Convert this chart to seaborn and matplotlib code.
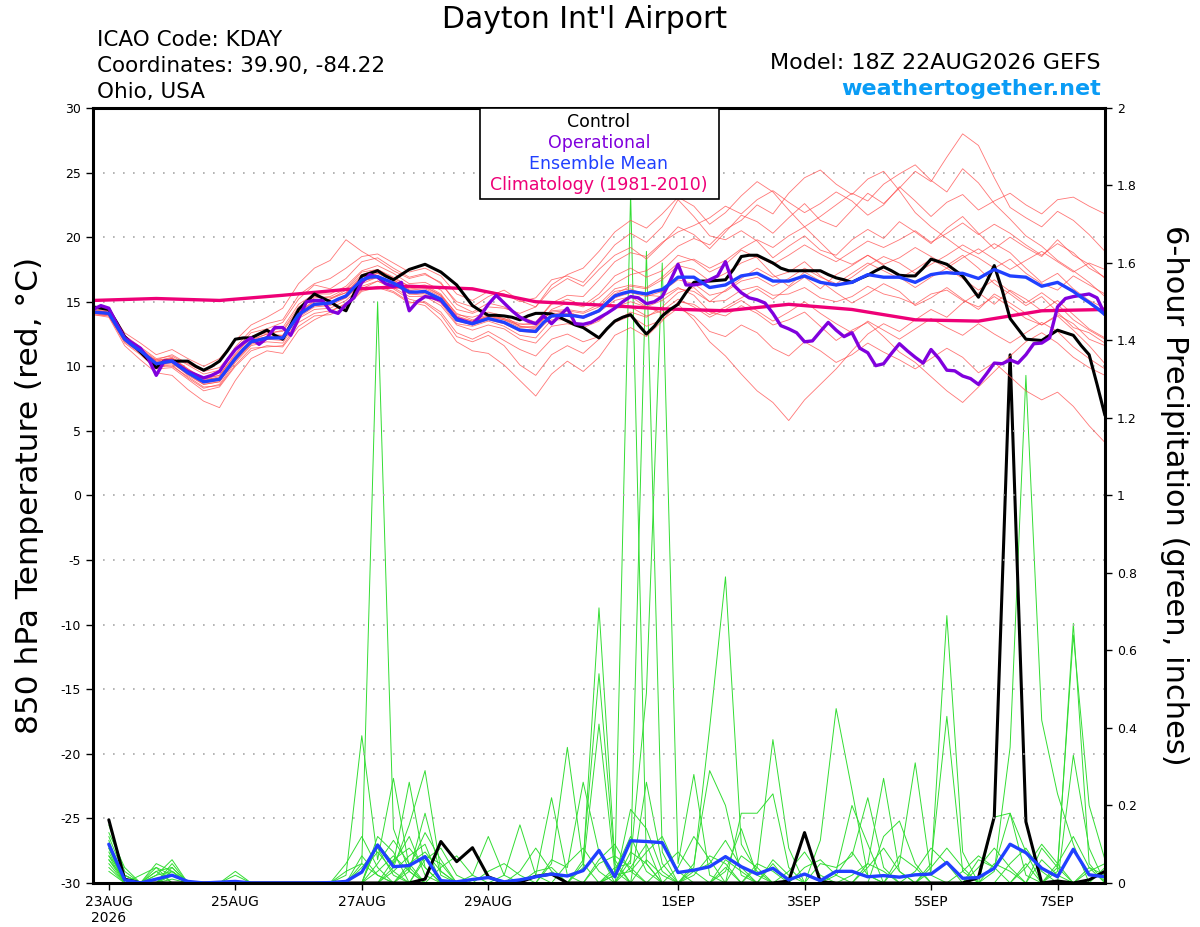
import pandas as pd
import matplotlib.pyplot as plt
import seaborn as sns
from matplotlib.patches import Rectangle

sns.set_style("ticks")
plt.rcParams['font.family'] = ['DejaVu Sans']
plt.rcParams['axes.unicode_minus'] = False
plt.rcParams['text.color'] = 'black'
plt.rcParams['xtick.color'] = 'black'
plt.rcParams['ytick.color'] = 'black'
plt.rcParams['axes.labelcolor'] = 'black'

# hours after 18Z 22AUG2026
hours3 = list(range(0, 385, 3))
hours6 = list(range(0, 385, 6))
precip_hours = list(range(6, 385, 6))
clim_hours = list(range(0, 385, 24))

date_ticks = [6, 54, 102, 150, 222, 270, 318, 366]
date_labels = ["23AUG\n2026", "25AUG", "27AUG", "29AUG", "1SEP", "3SEP", "5SEP", "7SEP"]

# 850 hPa temperature (C), 3-hourly
control_t = [14.6, 14.5, 14.4, 13.4, 12.3, 11.7, 11.1, 10.5, 9.9, 10.4,
             10.4, 10.4, 10.4, 10.0, 9.7, 10.0, 10.4, 11.2, 12.1, 12.2,
             12.2, 12.5, 12.8, 12.4, 12.1, 13.2, 14.4, 15.0, 15.6, 15.3,
             15.0, 14.6, 14.3, 15.6, 17.0, 17.2, 17.4, 17.0, 16.7, 17.1,
             17.5, 17.7, 17.9, 17.6, 17.3, 16.8, 16.3, 15.5, 14.7, 14.3,
             13.95, 13.95, 13.9, 13.8, 13.6, 13.9, 14.1, 14.1, 14.05, 13.8,
             13.5, 13.2, 13.0, 12.6, 12.2, 12.9, 13.5, 13.8, 14.0, 13.2,
             12.5, 13.1, 13.9, 14.4, 14.8, 15.7, 16.5, 16.6, 16.6, 16.65,
             16.7, 17.5, 18.5, 18.6, 18.6, 18.3, 18.0, 17.6, 17.4, 17.4,
             17.4, 17.4, 17.4, 17.1, 16.85, 16.7, 16.5, 16.8, 17.05, 17.4,
             17.7, 17.4, 17.05, 17.0, 17.0, 17.6, 18.3, 18.1, 17.9, 17.45,
             17.0, 16.2, 15.35, 16.5, 17.8, 15.9, 13.7, 12.9, 12.1, 12.05,
             12.0, 12.4, 12.8, 12.6, 12.4, 11.6, 10.9, 8.6, 6.2]

operational_t = [14.4, 14.7, 14.5, 13.3, 12.2, 11.8, 11.4, 10.6, 9.3, 10.4,
                 10.4, 10.0, 9.6, 9.35, 9.1, 9.3, 9.6, 10.5, 11.3, 11.8,
                 12.2, 11.7, 12.2, 13.0, 13.0, 12.4, 13.7, 15.0, 15.1, 15.1,
                 14.3, 14.1, 14.8, 15.3, 16.5, 17.1, 16.9, 16.4, 16.2, 16.5,
                 14.3, 15.0, 15.4, 15.3, 15.1, 14.4, 13.7, 13.5, 13.3, 13.9,
                 14.8, 15.5, 14.9, 14.3, 13.8, 13.5, 13.3, 13.9, 13.3, 13.9,
                 14.5, 13.3, 13.25, 13.4, 13.75, 14.1, 14.5, 15.0, 15.4, 15.3,
                 14.85, 15.0, 15.4, 16.6, 17.9, 16.3, 16.3, 16.4, 16.7, 17.0,
                 18.1, 16.3, 15.7, 15.3, 15.15, 14.9, 14.1, 13.15, 12.9, 12.6,
                 11.9, 11.97, 12.7, 13.4, 12.8, 12.3, 12.6, 11.4, 11.05, 10.05,
                 10.2, 11.0, 11.75, 11.2, 10.7, 10.25, 11.3, 10.6, 9.7, 9.65,
                 9.25, 9.05, 8.6, 9.4, 10.25, 10.2, 10.5, 10.25, 10.9, 11.75,
                 11.8, 12.2, 14.6, 15.25, 15.4, 15.5, 15.6, 15.3, 14.0]

ens_mean_t = [14.2, 14.15, 14.1, 13.1, 12.1, 11.6, 11.2, 10.7, 10.2, 10.3,
              10.4, 9.95, 9.5, 9.15, 8.8, 8.9, 9.0, 9.8, 10.6, 11.3,
              11.9, 12.05, 12.2, 12.2, 12.2, 13.1, 14.0, 14.4, 14.8, 14.85,
              14.9, 15.2, 15.45, 16.1, 16.7, 16.9, 16.95, 16.7, 16.45, 16.1,
              15.75, 15.75, 15.8, 15.5, 15.2, 14.4, 13.6, 13.45, 13.3, 13.5,
              13.7, 13.55, 13.4, 13.1, 12.8, 12.75, 12.7, 13.4, 13.9, 13.95,
              13.95, 13.9, 13.8, 14.05, 14.3, 14.9, 15.45, 15.65, 15.8, 15.7,
              15.6, 15.8, 15.95, 16.4, 16.9, 16.9, 16.9, 16.5, 16.1, 16.2,
              16.3, 16.65, 17.0, 17.1, 17.2, 16.9, 16.6, 16.6, 16.6, 16.8,
              17.0, 16.75, 16.5, 16.4, 16.3, 16.4, 16.5, 16.8, 17.1, 17.0,
              16.9, 16.9, 16.9, 16.7, 16.5, 16.8, 17.1, 17.2, 17.25, 17.2,
              17.2, 17.0, 16.8, 17.15, 17.5, 17.25, 17.0, 16.95, 16.9, 16.55,
              16.2, 16.35, 16.5, 16.15, 15.8, 15.35, 14.95, 14.5, 14.0]

climatology_t = [15.1, 15.25, 15.1, 15.5, 15.95, 16.2, 16.0, 15.0, 14.75,
                 14.45, 14.3, 14.8, 14.4, 13.6, 13.5, 14.3, 14.4]

# ensemble members, 6-hourly
mem01 = [14.3, 14.0, 12.0, 11.0, 10.5, 10.9, 10.2, 9.6, 9.9, 11.3, 12.6, 12.9, 13.4,
         15.2, 16.3, 16.0, 16.8, 18.1, 18.4, 17.6, 16.9, 17.2, 16.4, 15.0, 14.6, 15.4,
         15.9, 15.1, 14.6, 16.0, 16.8, 16.2, 17.5, 18.6, 19.2, 18.3, 19.5, 20.8, 20.2,
         19.1, 20.4, 21.7, 21.2, 20.3, 21.5, 22.6, 21.3, 20.8, 22.1, 23.4, 22.6, 23.8,
         25.1, 24.3, 26.2, 28.0, 27.1, 24.6, 22.3, 21.5, 20.8, 22.0, 21.3, 20.2, 18.9]
mem02 = [14.1, 13.9, 11.8, 10.9, 9.8, 9.9, 9.0, 8.1, 8.4, 10.0, 11.2, 11.6, 11.5,
         13.1, 13.9, 14.0, 14.6, 15.8, 16.1, 15.7, 14.9, 15.0, 14.2, 12.6, 12.1, 12.7,
         12.0, 11.3, 10.8, 12.1, 12.5, 11.9, 12.3, 13.4, 13.9, 13.1, 13.6, 14.5, 13.9,
         12.7, 12.3, 13.2, 12.6, 11.4, 10.8, 11.9, 11.2, 10.3, 10.9, 11.8, 11.1, 10.5,
         9.8, 10.6, 11.4, 10.7, 9.5, 10.3, 9.2, 8.1, 7.4, 8.0, 6.9, 5.4, 4.1]
mem03 = [14.4, 14.3, 12.4, 11.5, 10.6, 10.8, 10.1, 9.4, 9.7, 11.5, 12.8, 13.3, 13.6,
         15.5, 16.4, 16.8, 17.6, 18.5, 18.7, 18.0, 17.3, 17.6, 17.0, 15.6, 15.1, 15.8,
         15.6, 15.0, 15.3, 16.7, 17.0, 16.5, 17.9, 19.4, 20.3, 19.6, 20.8, 22.9, 21.6,
         20.1, 19.8, 20.5, 19.7, 18.4, 19.3, 20.1, 19.0, 18.6, 19.8, 20.6, 19.9, 21.2,
         20.4, 19.5, 20.7, 21.6, 20.3, 19.1, 20.0, 19.2, 18.5, 19.8, 18.6, 17.9, 16.8]
mem04 = [14.0, 13.8, 11.6, 10.5, 9.5, 9.3, 8.2, 7.3, 6.8, 8.9, 10.6, 11.2, 11.0,
         12.8, 13.6, 14.2, 14.9, 16.0, 16.6, 16.0, 15.2, 14.9, 14.0, 12.3, 11.9, 12.4,
         11.6, 10.1, 9.3, 10.9, 11.6, 11.0, 12.1, 13.5, 14.2, 13.8, 14.6, 15.7, 16.1,
         15.0, 15.9, 16.8, 17.6, 16.9, 17.3, 18.1, 17.0, 16.2, 16.9, 17.8, 18.5, 18.0,
         17.2, 17.9, 18.6, 19.4, 18.7, 19.5, 18.8, 17.6, 16.5, 17.2, 16.0, 15.1, 14.5]
mem05 = [14.5, 14.4, 12.6, 11.8, 10.9, 11.3, 10.6, 10.0, 10.6, 12.0, 13.2, 13.8, 14.5,
         16.4, 17.6, 18.2, 19.8, 18.9, 18.2, 17.4, 16.8, 17.1, 16.5, 14.8, 14.2, 14.9,
         14.6, 13.9, 13.4, 14.8, 15.2, 14.7, 15.6, 17.0, 17.6, 16.9, 17.4, 18.6, 18.2,
         17.3, 17.9, 19.0, 18.4, 17.1, 16.2, 17.3, 16.6, 15.7, 14.9, 15.6, 16.4, 15.8,
         14.7, 15.3, 16.1, 15.2, 14.4, 15.6, 14.9, 14.1, 13.2, 14.0, 13.3, 12.1, 11.6]
mem06 = [14.2, 14.2, 12.0, 11.1, 10.0, 10.0, 9.2, 8.4, 8.5, 10.1, 11.4, 11.5, 11.6,
         13.4, 14.1, 14.3, 14.8, 15.9, 16.2, 15.8, 15.0, 14.7, 13.6, 11.9, 11.2, 11.0,
         10.1, 8.9, 7.7, 9.4, 10.4, 9.6, 10.7, 12.4, 13.0, 12.3, 13.5, 15.0, 14.8,
         14.0, 14.6, 15.3, 16.0, 15.2, 16.1, 16.9, 16.0, 17.1, 17.8, 18.6, 17.9, 18.4,
         19.2, 18.5, 17.8, 18.6, 17.6, 16.4, 15.6, 14.7, 15.4, 14.2, 13.0, 12.6, 11.8]
mem07 = [14.3, 14.1, 12.2, 11.3, 10.3, 10.6, 9.8, 9.0, 9.1, 10.7, 12.0, 12.5, 12.4,
         14.2, 15.0, 15.2, 15.9, 17.1, 17.5, 16.8, 16.2, 16.3, 15.6, 14.0, 13.8, 14.2,
         13.9, 13.1, 12.9, 14.0, 14.3, 13.7, 14.2, 15.1, 15.4, 14.6, 14.1, 14.8, 13.6,
         11.9, 10.8, 9.4, 8.1, 7.2, 5.8, 7.4, 8.6, 9.8, 11.2, 12.5, 13.3, 12.7,
         13.6, 14.4, 13.8, 14.9, 15.7, 14.8, 15.9, 15.2, 14.3, 15.1, 14.0, 12.9, 12.2]
mem08 = [14.1, 14.0, 12.1, 11.2, 10.1, 10.2, 9.4, 8.6, 8.8, 10.4, 11.7, 12.1, 12.3,
         14.1, 14.9, 15.0, 15.3, 16.5, 17.2, 16.7, 15.9, 15.6, 15.0, 13.6, 13.4, 13.9,
         13.6, 13.2, 13.4, 14.9, 15.5, 15.4, 16.7, 18.1, 18.8, 18.5, 19.6, 20.4, 20.9,
         21.5, 22.4, 21.8, 22.9, 23.6, 22.7, 21.9, 22.6, 23.5, 22.8, 21.7, 22.5, 23.9,
         22.8, 21.6, 22.7, 23.3, 22.1, 22.8, 23.4, 22.5, 21.8, 22.9, 23.1, 22.4, 21.8]
mem09 = [14.2, 14.1, 12.1, 11.3, 10.4, 10.7, 9.8, 9.1, 9.3, 10.9, 12.3, 12.6, 12.7,
         14.4, 15.3, 15.4, 16.0, 17.3, 17.5, 16.9, 16.2, 16.2, 15.5, 14.1, 13.6, 14.0,
         13.7, 13.3, 13.2, 14.2, 14.3, 14.1, 14.6, 15.8, 16.0, 15.5, 15.4, 16.1, 15.5,
         14.2, 13.9, 14.7, 14.1, 13.2, 13.6, 14.2, 13.1, 12.0, 12.8, 13.4, 12.3, 11.1,
         10.3, 9.2, 8.1, 7.2, 8.4, 9.6, 10.8, 11.9, 12.6, 11.8, 10.7, 9.9, 9.3]
mem10 = [14.3, 14.2, 12.3, 11.4, 10.5, 10.6, 9.7, 8.9, 9.2, 10.8, 12.1, 12.5, 12.8,
         14.6, 15.4, 15.3, 15.7, 16.9, 17.2, 16.6, 15.9, 16.0, 15.4, 13.9, 13.5, 13.8,
         13.6, 13.0, 13.1, 14.4, 14.9, 14.6, 15.3, 16.4, 17.1, 17.4, 18.2, 19.3, 19.9,
         19.4, 20.6, 21.3, 22.5, 21.8, 23.4, 24.6, 25.2, 24.1, 23.3, 24.5, 25.1, 23.6,
         21.9, 20.8, 19.9, 19.0, 18.4, 17.6, 18.3, 17.2, 16.4, 15.9, 17.0, 16.3, 15.6]
mem11 = [14.0, 13.9, 11.9, 11.0, 10.0, 10.1, 9.1, 8.3, 8.6, 10.3, 11.6, 11.9, 11.8,
         13.7, 14.4, 14.5, 15.1, 16.2, 16.6, 16.1, 15.4, 15.4, 14.7, 13.2, 12.8, 13.2,
         12.9, 12.1, 11.8, 13.1, 13.3, 13.0, 13.5, 14.6, 15.0, 14.6, 15.1, 16.0, 15.8,
         15.0, 15.1, 15.9, 16.2, 15.5, 15.6, 16.1, 15.3, 15.0, 15.4, 16.2, 15.6, 15.3,
         14.8, 15.6, 15.9, 15.1, 14.6, 15.4, 14.6, 13.7, 13.2, 13.9, 12.8, 11.6, 10.2]
mem12 = [14.4, 14.2, 12.2, 11.3, 10.4, 10.6, 9.7, 9.0, 9.3, 11.0, 12.3, 12.7, 13.0,
         14.8, 15.6, 15.6, 16.2, 17.4, 17.8, 17.2, 16.4, 16.5, 15.9, 14.4, 14.1, 14.6,
         14.5, 14.1, 14.6, 16.3, 17.1, 17.6, 18.9, 20.4, 21.3, 20.7, 21.8, 23.1, 22.4,
         21.0, 21.9, 23.2, 24.3, 23.5, 22.1, 20.8, 19.6, 18.4, 17.9, 18.6, 17.8, 16.9,
         16.1, 16.9, 17.6, 16.8, 15.9, 16.7, 15.8, 14.9, 15.7, 14.8, 13.6, 12.8, 12.1]
mem13 = [14.2, 14.1, 12.0, 11.1, 10.1, 10.3, 9.4, 8.7, 8.9, 10.5, 11.8, 12.1, 12.2,
         14.0, 14.7, 14.8, 15.4, 16.6, 16.9, 16.3, 15.6, 15.7, 15.1, 13.5, 13.2, 13.6,
         13.3, 12.7, 12.6, 13.8, 13.9, 13.8, 14.4, 15.6, 16.2, 16.0, 16.7, 17.8, 17.5,
         16.6, 17.2, 18.0, 18.5, 17.9, 18.6, 19.4, 18.7, 18.1, 18.9, 19.7, 19.2, 19.8,
         20.5, 19.6, 20.3, 21.1, 20.2, 21.0, 20.3, 19.4, 18.6, 19.5, 18.8, 17.6, 16.9]
mem14 = [14.1, 14.0, 12.1, 11.2, 10.3, 10.5, 9.6, 8.8, 9.0, 10.6, 11.9, 12.3, 12.1,
         13.8, 14.6, 14.7, 15.3, 16.4, 16.9, 16.4, 15.6, 15.5, 14.9, 13.3, 13.1, 13.5,
         13.1, 12.4, 12.2, 13.6, 13.6, 13.2, 13.6, 14.5, 14.6, 13.9, 14.3, 15.2, 14.6,
         13.8, 14.4, 15.1, 14.3, 13.5, 14.2, 15.0, 14.1, 13.3, 12.6, 13.5, 12.8, 12.1,
         12.9, 13.7, 13.0, 12.4, 13.3, 12.5, 11.8, 12.6, 13.4, 12.7, 11.5, 10.6, 9.8]
mem15 = [14.3, 14.2, 12.2, 11.3, 10.2, 10.4, 9.5, 8.8, 9.1, 10.7, 12.0, 12.3, 12.4,
         14.2, 15.1, 15.2, 15.7, 17.0, 17.3, 16.7, 16.0, 16.1, 15.5, 13.8, 13.5, 13.9,
         13.7, 13.1, 13.0, 14.3, 14.4, 14.2, 14.8, 16.0, 16.3, 16.1, 16.9, 18.0, 18.3,
         17.6, 18.2, 19.1, 19.8, 19.2, 20.1, 20.8, 21.6, 22.5, 23.4, 22.8, 24.1, 24.9,
         25.6, 24.4, 23.5, 25.3, 24.2, 22.6, 21.4, 20.1, 19.3, 18.2, 17.4, 16.5, 15.4]
mem16 = [14.2, 14.0, 12.0, 11.1, 10.2, 10.3, 9.3, 8.6, 8.8, 10.5, 11.8, 12.1, 12.0,
         13.9, 14.7, 14.9, 15.4, 16.6, 16.9, 16.4, 15.7, 15.8, 15.2, 13.7, 13.3, 13.7,
         13.4, 12.9, 12.8, 14.0, 14.1, 13.9, 14.3, 15.3, 15.7, 15.4, 15.8, 16.7, 16.4,
         15.5, 15.8, 16.6, 16.9, 16.2, 16.8, 17.6, 16.9, 16.4, 17.2, 18.0, 17.4, 16.8,
         17.5, 18.3, 17.6, 18.4, 19.1, 18.3, 17.5, 18.2, 18.9, 18.1, 17.3, 18.0, 17.5]
temp_members = [mem01, mem02, mem03, mem04, mem05, mem06, mem07, mem08,
                mem09, mem10, mem11, mem12, mem13, mem14, mem15, mem16]

# 6-hour precipitation (inches)
ens_mean_p = [0.10, 0.008, 0.0, 0.01, 0.02, 0.004, 0.0, 0.002, 0.004, 0.0,
              0.0, 0.0, 0.0, 0.0, 0.001, 0.004, 0.028, 0.098, 0.042, 0.045,
              0.068, 0.006, 0.003, 0.009, 0.014, 0.003, 0.008, 0.016, 0.023, 0.018,
              0.032, 0.084, 0.016, 0.109, 0.107, 0.104, 0.027, 0.033, 0.042, 0.068,
              0.042, 0.023, 0.038, 0.008, 0.023, 0.006, 0.03, 0.03, 0.016, 0.019,
              0.015, 0.021, 0.023, 0.053, 0.012, 0.014, 0.038, 0.1, 0.078, 0.038,
              0.016, 0.087, 0.021, 0.016]
control_p = [0.163, 0.01, 0, 0, 0, 0, 0, 0, 0, 0,
             0, 0, 0, 0, 0, 0, 0, 0, 0, 0,
             0.01, 0.107, 0.055, 0.091, 0.016, 0, 0.002, 0.017, 0.023, 0,
             0, 0, 0, 0, 0, 0, 0, 0, 0, 0,
             0, 0, 0, 0.005, 0.13, 0.003, 0, 0, 0, 0,
             0, 0, 0, 0, 0, 0.014, 0.171, 1.363, 0.158, 0,
             0.005, 0, 0.008, 0.03]

# members: only the non-zero 6-hour totals (hour: inches)
pm01 = {6: 0.12, 12: 0.02, 30: 0.05, 102: 0.05, 108: 1.50, 114: 0.14, 120: 0.03, 186: 0.05,
        192: 0.71, 198: 0.06, 240: 0.04, 294: 0.05, 300: 0.27, 306: 0.03, 354: 0.05}
pm02 = {6: 0.09, 24: 0.03, 30: 0.04, 96: 0.02, 102: 0.38, 108: 0.06, 114: 0.27, 120: 0.04,
        174: 0.05, 180: 0.35, 186: 0.05, 198: 0.02, 204: 1.78, 210: 0.05, 258: 0.05, 276: 0.11,
        282: 0.45, 288: 0.24, 294: 0.02, 366: 0.03, 372: 0.67, 378: 0.05}
pm03 = {6: 0.07, 30: 0.03, 54: 0.02, 108: 0.10, 114: 0.05, 120: 0.26, 126: 0.04, 168: 0.02,
        174: 0.22, 180: 0.02, 198: 0.04, 204: 0.05, 210: 1.63, 216: 0.08, 240: 0.03, 246: 0.14,
        252: 0.02, 318: 0.03, 324: 0.69, 330: 0.08}
pm04 = {6: 0.15, 12: 0.03, 24: 0.02, 30: 0.06, 114: 0.04, 120: 0.15, 126: 0.29, 132: 0.03,
        204: 0.06, 210: 0.49, 216: 1.60, 222: 0.05, 228: 0.28, 234: 0.02, 342: 0.03, 348: 0.35,
        354: 1.31, 360: 0.42, 366: 0.23, 372: 0.10}
pm05 = {6: 0.05, 30: 0.02, 96: 0.05, 102: 0.12, 108: 0.04, 120: 0.03, 126: 0.18, 132: 0.02,
        186: 0.06, 192: 0.54, 198: 0.05, 228: 0.04, 234: 0.40, 240: 0.79, 246: 0.10, 252: 0.03,
        306: 0.05, 312: 0.31, 318: 0.02, 366: 0.04, 372: 0.64, 378: 0.20, 384: 0.06}
pm06 = {6: 0.11, 24: 0.04, 114: 0.03, 120: 0.07, 126: 0.10, 144: 0.02, 150: 0.12, 156: 0.02,
        186: 0.04, 192: 0.41, 198: 0.03, 210: 0.26, 216: 0.05, 252: 0.04, 258: 0.37, 264: 0.09,
        318: 0.05, 324: 0.43, 330: 0.03}
pm07 = {6: 0.06, 12: 0.01, 108: 0.12, 114: 0.08, 156: 0.02, 162: 0.15, 168: 0.02, 204: 0.19,
        210: 0.14, 216: 0.03, 228: 0.05, 234: 0.29, 240: 0.20, 246: 0.02, 282: 0.03, 288: 0.20,
        294: 0.10, 342: 0.17, 348: 0.18, 354: 0.02}
pm08 = {6: 0.08, 30: 0.03, 108: 0.10, 114: 0.05, 120: 0.12, 126: 0.02, 174: 0.06, 180: 0.04,
        186: 0.26, 192: 0.08, 204: 0.04, 210: 0.10, 246: 0.18, 252: 0.18, 258: 0.23, 264: 0.04,
        300: 0.12, 306: 0.16, 312: 0.05, 360: 0.06, 366: 0.02}
pm09 = {6: 0.10, 12: 0.02, 30: 0.02, 102: 0.03, 108: 0.08, 114: 0.03, 126: 0.07, 132: 0.05,
        198: 0.03, 204: 0.12, 210: 0.03, 222: 0.04, 228: 0.12, 234: 0.06, 276: 0.05, 282: 0.04,
        288: 0.07, 294: 0.22, 300: 0.04, 336: 0.06, 342: 0.04, 348: 0.18, 354: 0.08, 378: 0.04,
        384: 0.02}
pm10 = {6: 0.04, 24: 0.02, 30: 0.03, 54: 0.03, 114: 0.06, 120: 0.09, 126: 0.04, 192: 0.05,
        198: 0.07, 204: 0.04, 228: 0.02, 234: 0.07, 240: 0.05, 264: 0.03, 270: 0.08, 276: 0.02,
        318: 0.04, 324: 0.09, 330: 0.04, 372: 0.33, 378: 0.09}
pm11 = {6: 0.13, 12: 0.04, 24: 0.03, 102: 0.07, 108: 0.02, 126: 0.06, 132: 0.09, 138: 0.02,
        168: 0.03, 174: 0.04, 210: 0.06, 216: 0.02, 252: 0.05, 258: 0.03, 288: 0.02, 294: 0.05,
        300: 0.03, 342: 0.05, 348: 0.03, 360: 0.09, 366: 0.04}
pm12 = {6: 0.06, 30: 0.04, 108: 0.05, 114: 0.11, 120: 0.05, 150: 0.03, 156: 0.05, 162: 0.02,
        204: 0.08, 210: 0.05, 240: 0.06, 246: 0.03, 306: 0.07, 312: 0.04, 348: 0.05, 354: 0.09,
        360: 0.03}
pm13 = {6: 0.09, 18: 0.02, 24: 0.04, 30: 0.02, 120: 0.04, 126: 0.13, 132: 0.06, 180: 0.05,
        186: 0.09, 192: 0.03, 216: 0.04, 222: 0.08, 228: 0.03, 282: 0.02, 288: 0.08, 294: 0.02,
        330: 0.03, 336: 0.07, 342: 0.04, 378: 0.03, 384: 0.05}
pm14 = {6: 0.03, 108: 0.03, 114: 0.07, 120: 0.03, 132: 0.04, 138: 0.07, 144: 0.02, 198: 0.02,
        204: 0.03, 210: 0.08, 216: 0.12, 222: 0.03, 258: 0.06, 264: 0.02, 312: 0.03, 318: 0.09,
        324: 0.05, 366: 0.05, 372: 0.12, 378: 0.04}
pm15 = {6: 0.07, 12: 0.02, 24: 0.05, 30: 0.03, 102: 0.04, 108: 0.09, 114: 0.02, 162: 0.03,
        168: 0.09, 174: 0.03, 228: 0.03, 234: 0.05, 240: 0.11, 246: 0.04, 294: 0.04, 300: 0.09,
        306: 0.03, 354: 0.04, 360: 0.10, 366: 0.05}
pm16 = {6: 0.10, 30: 0.01, 96: 0.03, 102: 0.05, 108: 0.02, 120: 0.05, 126: 0.08, 132: 0.03,
        192: 0.06, 198: 0.10, 204: 0.03, 246: 0.07, 252: 0.04, 270: 0.04, 276: 0.06, 282: 0.02,
        336: 0.04, 342: 0.09, 348: 0.04, 384: 0.04}
precip_members = [pm01, pm02, pm03, pm04, pm05, pm06, pm07, pm08,
                  pm09, pm10, pm11, pm12, pm13, pm14, pm15, pm16]

for m in temp_members:
    assert len(m) == len(hours6), len(m)

# long tables for the member spaghetti
temp_rows = []
for k, m in enumerate(temp_members):
    for h, v in zip(hours6, m):
        temp_rows.append((k, h, v))
temp_df = pd.DataFrame(temp_rows, columns=["member", "hour", "temp"])

precip_rows = []
for k, m in enumerate(precip_members):
    for h in precip_hours:
        precip_rows.append((k, h, m.get(h, 0.0)))
precip_df = pd.DataFrame(precip_rows, columns=["member", "hour", "precip"])

fig = plt.figure(figsize=(12, 9.27), dpi=100)
ax = fig.add_axes([0.0775, 0.0475, 0.8433, 0.836])
ax2 = ax.twinx()
ax.set_zorder(ax2.get_zorder() + 1)
ax.patch.set_visible(False)

# precipitation (right axis)
sns.lineplot(data=precip_df, x="hour", y="precip", units="member", estimator=None,
             color="#33dd33", lw=0.7, ax=ax2, legend=False)
sns.lineplot(x=precip_hours, y=control_p, color="black", lw=2.2, ax=ax2)
sns.lineplot(x=precip_hours, y=ens_mean_p, color="#2040ff", lw=2.4, ax=ax2)

# temperature (left axis)
sns.lineplot(data=temp_df, x="hour", y="temp", units="member", estimator=None,
             color="#ff4848", lw=0.6, alpha=0.75, ax=ax, legend=False)
sns.lineplot(x=clim_hours, y=climatology_t, color="#ee0077", lw=2.4, ax=ax)
sns.lineplot(x=hours3, y=control_t, color="black", lw=2.2, ax=ax)
sns.lineplot(x=hours3, y=operational_t, color="#8000dd", lw=2.4, ax=ax)
sns.lineplot(x=hours3, y=ens_mean_t, color="#2040ff", lw=2.4, ax=ax)

ax.set_xlim(0, 384)
ax.set_ylim(-30, 30)
ax2.set_ylim(0, 2)

yt = list(range(-30, 31, 5))
ax.set_yticks(yt, labels=[str(v) for v in yt])
pt = [0, 0.2, 0.4, 0.6, 0.8, 1.0, 1.2, 1.4, 1.6, 1.8, 2.0]
ax2.set_yticks(pt, labels=["0", "0.2", "0.4", "0.6", "0.8", "1", "1.2", "1.4", "1.6", "1.8", "2"])
ax.set_xticks(date_ticks, labels=date_labels)

ax.yaxis.grid(True, linestyle=(0, (1, 5)), color="#a8a8a8", lw=1.2)
ax.xaxis.grid(False)
ax2.grid(False)

ax.tick_params(axis="y", direction="out", length=5, width=1, labelsize=9)
ax.tick_params(axis="x", direction="out", length=5, width=1, labelsize=10)
ax2.tick_params(axis="y", direction="out", length=5, width=1, labelsize=9)
for s in ax.spines.values():
    s.set_linewidth(2.2)
    s.set_color("black")
for s in ax2.spines.values():
    s.set_visible(False)
ax.set_xlabel("")
ax.set_ylabel("")
ax2.set_xlabel("")
ax2.set_ylabel("")

# legend box
ax.add_patch(Rectangle((0.3824, 0.8826), 0.2362, 0.1174, transform=ax.transAxes,
                       facecolor="white", edgecolor="black", lw=1.2, zorder=10))
leg_items = [("Control", "black"), ("Operational", "#8000dd"),
             ("Ensemble Mean", "#2040ff"), ("Climatology (1981-2010)", "#ee0077")]
for i, (txt, c) in enumerate(leg_items):
    ax.text(0.5, 0.9825 - i * 0.0275, txt, color=c, fontsize=12.5, ha="center", va="center",
            transform=ax.transAxes, zorder=11)

# header texts
fig.text(0.4875, 0.9795, "Dayton Int'l Airport", fontsize=21.5, ha="center", va="center")
fig.text(0.081, 0.9569, "ICAO Code: KDAY", fontsize=15.5, ha="left", va="center")
fig.text(0.081, 0.9288, "Coordinates: 39.90, -84.22", fontsize=15.5, ha="left", va="center")
fig.text(0.081, 0.9008, "Ohio, USA", fontsize=15.5, ha="left", va="center")
fig.text(0.9175, 0.932, "Model: 18Z 22AUG2026 GEFS", fontsize=16, ha="right", va="center")
fig.text(0.9175, 0.904, "weathertogether.net", fontsize=16, fontweight="bold",
         color="#0a9cf5", ha="right", va="center")

fig.text(0.025, 0.4655, "850 hPa Temperature (red, \u00b0C)", fontsize=22.5, rotation=90,
         ha="center", va="center")
fig.text(0.979, 0.4655, "6-hour Precipitation (green, inches)", fontsize=22, rotation=270,
         ha="center", va="center")

fig.savefig("out.png", dpi=100)
